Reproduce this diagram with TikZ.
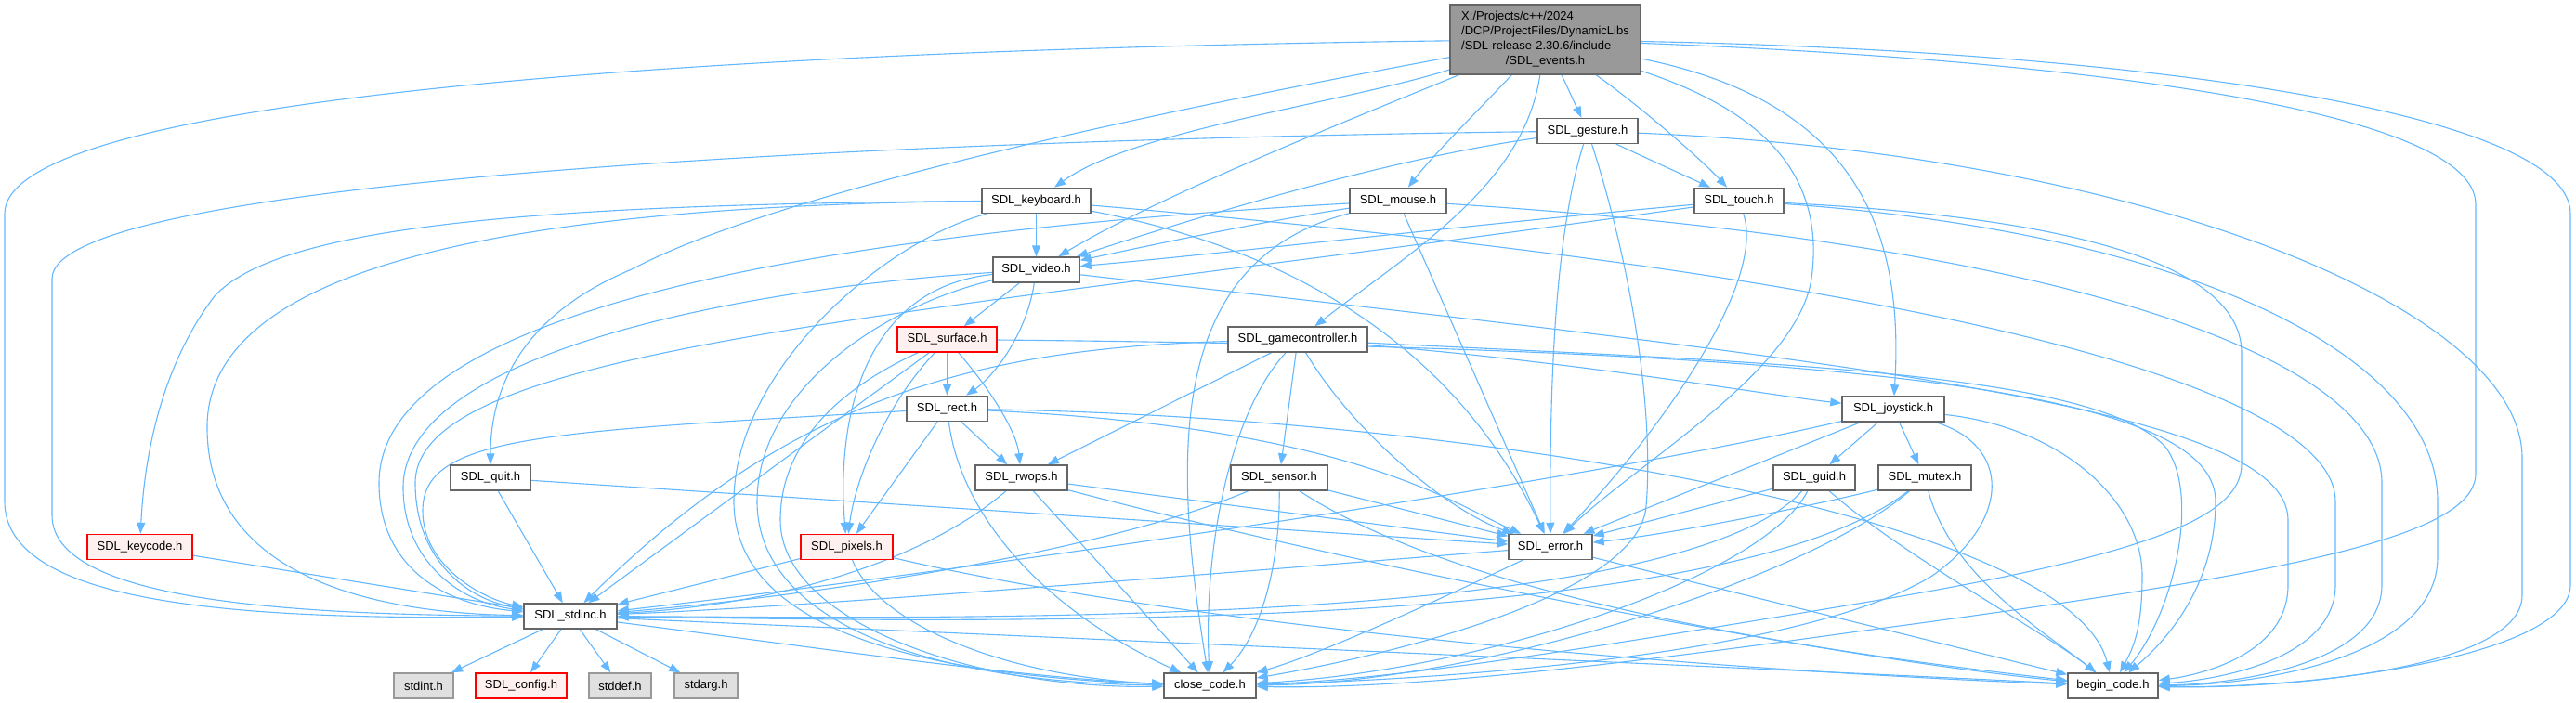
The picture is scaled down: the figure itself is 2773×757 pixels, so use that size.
\documentclass[tikz,border=0pt]{standalone}
\usepackage{fontspec}
\setmainfont{Liberation Sans}
\usetikzlibrary{arrows.meta}
\definecolor{edgeblue}{HTML}{63B8FF}
\definecolor{boxgray}{HTML}{666666}
\definecolor{redfill}{HTML}{FFF0F0}
\definecolor{extfill}{HTML}{E0E0E0}
\definecolor{extdraw}{HTML}{999999}
\definecolor{mainfill}{HTML}{999999}
\pgfdeclarelayer{bglayer}
\pgfdeclarelayer{edgelayer}
\pgfsetlayers{bglayer,edgelayer,main}
\begin{document}
\begin{tikzpicture}[x=1pt,y=-1pt,
  nbox/.style={draw=boxgray, fill=white, line width=1.5pt, minimum height=27pt, inner sep=0pt, font=\fontsize{13}{16}\selectfont},
  redbox/.style={nbox, draw=red, fill=redfill},
  extbox/.style={nbox, draw=extdraw, fill=extfill},
  dep/.style={draw=edgeblue, line width=1.1pt, -{Triangle[length=12pt,width=9pt]}},
]
\useasboundingbox (0,0) rectangle (2773,757);
\begin{pgfonlayer}{bglayer}
\fill[white] (0,0) rectangle (2773,757);
\end{pgfonlayer}

% nodes
\node[nbox, fill=mainfill, minimum width=205pt, minimum height=75pt] (events) at (1663.5,42.5)
  {\begin{tabular}{@{}l@{}}X:/Projects/c++/2024\\/DCP/ProjectFiles/DynamicLibs\\/SDL-release-2.30.6/include\\\multicolumn{1}{@{}c@{}}{/SDL\_events.h}\end{tabular}};
\node[nbox, minimum width=108pt] (gesture) at (1709,141) {SDL\_gesture.h};
\node[nbox, minimum width=96pt] (touch) at (1872,216) {SDL\_touch.h};
\node[nbox, minimum width=117pt] (keyboard) at (1115.5,216) {SDL\_keyboard.h};
\node[nbox, minimum width=104pt] (mouse) at (1505,216) {SDL\_mouse.h};
\node[nbox, minimum width=93pt] (video) at (1115.5,290.5) {SDL\_video.h};
\node[redbox, minimum width=107pt] (surface) at (1019.5,365.5) {SDL\_surface.h};
\node[nbox, minimum width=150pt] (gamecontroller) at (1397,365.5) {SDL\_gamecontroller.h};
\node[nbox, minimum width=87pt] (rect) at (1019.5,440) {SDL\_rect.h};
\node[nbox, minimum width=110pt] (joystick) at (2038,440.5) {SDL\_joystick.h};
\node[nbox, minimum width=86pt] (quit) at (528,514.5) {SDL\_quit.h};
\node[nbox, minimum width=99pt] (rwops) at (1099.5,514.5) {SDL\_rwops.h};
\node[nbox, minimum width=104pt] (sensor) at (1377,514.5) {SDL\_sensor.h};
\node[nbox, minimum width=88pt] (guid) at (1953,514.5) {SDL\_guid.h};
\node[nbox, minimum width=100pt] (mutex) at (2072,514.5) {SDL\_mutex.h};
\node[redbox, minimum width=113pt] (keycode) at (150.5,589) {SDL\_keycode.h};
\node[redbox, minimum width=99pt] (pixels) at (911.5,589) {SDL\_pixels.h};
\node[nbox, minimum width=90pt] (error) at (1669,589) {SDL\_error.h};
\node[nbox, minimum width=100pt] (stdinc) at (614,663.5) {SDL\_stdinc.h};
\node[extbox, minimum width=64pt] (stdint) at (456,738.5) {stdint.h};
\node[redbox, minimum width=98pt] (config) at (561,738.5) {SDL\_config.h};
\node[extbox, minimum width=67pt] (stddef) at (667.5,738.5) {stddef.h};
\node[extbox, minimum width=68pt] (stdarg) at (760,738.5) {stdarg.h};
\node[nbox, minimum width=99pt] (close) at (1302.5,738.5) {close\_code.h};
\node[nbox, minimum width=97pt] (begin) at (2274.5,738.5) {begin\_code.h};

\begin{pgfonlayer}{edgelayer}
% SDL_events
\draw[dep] (events) .. controls (700,55) and (5,110) .. (5,230) -- (5,540) .. controls (5,650) and (250,668) .. (stdinc);
\draw[dep] (events) .. controls (2300,55) and (2767,120) .. (2767,230) -- (2767,630) .. controls (2767,705) and (2500,742) .. (begin);
\draw[dep] (events) .. controls (2250,65) and (2665,120) .. (2665,220) -- (2665,510) .. controls (2665,580) and (2450,620) .. (2000,680) .. controls (1700,722) and (1500,742) .. (close);
\draw[dep] (events) .. controls (1900,120) and (1965,190) .. (1950,300) .. controls (1935,400) and (1760,500) .. (error);
\draw[dep] (events) .. controls (2000,110) and (2050,250) .. (joystick);
\draw[dep] (events) .. controls (1640,200) and (1520,270) .. (gamecontroller);
\draw[dep] (events) .. controls (1590,120) and (1540,170) .. (mouse);
\draw[dep] (events) .. controls (1450,110) and (1220,140) .. (keyboard);
\draw[dep] (events) .. controls (1450,130) and (1250,210) .. (video);
\draw[dep] (events) .. controls (1300,110) and (850,200) .. (680,290) .. controls (560,340) and (528,420) .. (quit);
\draw[dep] (events) -- (gesture);
\draw[dep] (events) .. controls (1760,110) and (1830,170) .. (touch);
% SDL_gesture
\draw[dep] (gesture) .. controls (1000,150) and (56,190) .. (56,300) -- (56,555) .. controls (56,645) and (300,662) .. (stdinc);
\draw[dep] (gesture) .. controls (1500,170) and (1300,230) .. (video);
\draw[dep] (gesture) -- (touch);
\draw[dep] (gesture) .. controls (1675,250) and (1668,400) .. (error);
\draw[dep] (gesture) .. controls (1760,300) and (1780,450) .. (1772,545) .. controls (1765,640) and (1500,705) .. (close);
\draw[dep] (gesture) .. controls (2300,165) and (2715,330) .. (2715,493) -- (2715,641) .. controls (2715,722) and (2450,742) .. (begin);
% SDL_touch
\draw[dep] (touch) .. controls (1000,340) and (447,370) .. (447,520) .. controls (447,600) and (500,645) .. (stdinc);
\draw[dep] (touch) .. controls (1600,240) and (1300,275) .. (video);
\draw[dep] (touch) .. controls (1900,300) and (1800,450) .. (error);
\draw[dep] (touch) .. controls (2250,235) and (2413,290) .. (2413,380) -- (2413,500) .. controls (2413,560) and (2300,600) .. (2000,650) .. controls (1700,700) and (1500,732) .. (close);
\draw[dep] (touch) .. controls (2350,250) and (2624,380) .. (2624,540) -- (2624,600) .. controls (2624,712) and (2420,738) .. (begin);
% SDL_keyboard
\draw[dep] (keyboard) .. controls (600,220) and (300,240) .. (230,320) .. controls (170,400) and (155,500) .. (keycode);
\draw[dep] (keyboard) .. controls (500,222) and (223,300) .. (223,460) .. controls (223,620) and (400,660) .. (stdinc);
\draw[dep] (keyboard) -- (video);
\draw[dep] (keyboard) .. controls (1400,270) and (1570,380) .. (error);
\draw[dep] (keyboard) .. controls (950,260) and (790,400) .. (790,540) .. controls (790,680) and (1000,728) .. (close);
\draw[dep] (keyboard) .. controls (2100,300) and (2514,420) .. (2514,540) -- (2514,630) .. controls (2514,712) and (2380,733) .. (begin);
% SDL_mouse
\draw[dep] (mouse) .. controls (900,250) and (408,330) .. (408,520) .. controls (408,605) and (470,650) .. (stdinc);
\draw[dep] (mouse) .. controls (1350,240) and (1220,268) .. (video);
\draw[dep] (mouse) -- (error);
\draw[dep] (mouse) .. controls (1260,280) and (1260,480) .. (close);
\draw[dep] (mouse) .. controls (2200,260) and (2564,380) .. (2564,520) -- (2564,630) .. controls (2564,717) and (2400,737) .. (begin);
% SDL_video
\draw[dep] (video) .. controls (800,310) and (434,380) .. (434,525) .. controls (434,600) and (490,648) .. (stdinc);
\draw[dep] (video) -- (surface);
\draw[dep] (video) .. controls (1105,360) and (1070,405) .. (rect);
\draw[dep] (video) .. controls (930,310) and (900,450) .. (pixels);
\draw[dep] (video) .. controls (950,330) and (815,420) .. (815,540) .. controls (815,670) and (1000,735) .. (close);
\draw[dep] (video) .. controls (2000,390) and (2463,440) .. (2463,560) -- (2463,630) .. controls (2463,708) and (2360,728) .. (begin);
% SDL_surface
\draw[dep] (surface) -- (stdinc);
\draw[dep] (surface) .. controls (950,440) and (920,520) .. (pixels);
\draw[dep] (surface) -- (rect);
\draw[dep] (surface) .. controls (1075,430) and (1095,470) .. (rwops);
\draw[dep] (surface) .. controls (900,420) and (840,480) .. (840,560) .. controls (840,670) and (1050,742) .. (close);
\draw[dep] (surface) .. controls (2000,375) and (2385,420) .. (2385,540) .. controls (2385,640) and (2320,700) .. (begin);
% SDL_gamecontroller
\draw[dep] (gamecontroller) .. controls (1050,375) and (850,430) .. (stdinc);
\draw[dep] (gamecontroller) -- (rwops);
\draw[dep] (gamecontroller) -- (sensor);
\draw[dep] (gamecontroller) .. controls (1460,470) and (1560,550) .. (error);
\draw[dep] (gamecontroller) .. controls (1700,390) and (1900,425) .. (joystick);
\draw[dep] (gamecontroller) .. controls (1320,450) and (1296,600) .. (close);
\draw[dep] (gamecontroller) .. controls (1900,390) and (2250,400) .. (2330,480) .. controls (2370,530) and (2340,660) .. (begin);
% SDL_rect
\draw[dep] (rect) .. controls (580,465) and (455,470) .. (455,550) .. controls (455,610) and (520,645) .. (stdinc);
\draw[dep] (rect) -- (pixels);
\draw[dep] (rect) -- (rwops);
\draw[dep] (rect) .. controls (1450,460) and (1560,540) .. (error);
\draw[dep] (rect) .. controls (1035,560) and (1130,660) .. (close);
\draw[dep] (rect) .. controls (1600,450) and (2230,560) .. (begin);
% SDL_joystick
\draw[dep] (joystick) .. controls (1700,520) and (1000,620) .. (stdinc);
\draw[dep] (joystick) -- (guid);
\draw[dep] (joystick) -- (mutex);
\draw[dep] (joystick) -- (error);
\draw[dep] (joystick) .. controls (2165,480) and (2165,560) .. (2080,620) .. controls (1950,700) and (1600,730) .. (close);
\draw[dep] (joystick) .. controls (2220,460) and (2306,540) .. (2306,620) .. controls (2306,680) and (2295,700) .. (begin);
% SDL_quit
\draw[dep] (quit) -- (stdinc);
\draw[dep] (quit) -- (error);
% SDL_rwops
\draw[dep] (rwops) .. controls (1000,600) and (850,650) .. (stdinc);
\draw[dep] (rwops) -- (error);
\draw[dep] (rwops) -- (close);
\draw[dep] (rwops) .. controls (1500,620) and (2000,712) .. (begin);
% SDL_sensor
\draw[dep] (sensor) .. controls (1200,590) and (900,640) .. (stdinc);
\draw[dep] (sensor) -- (error);
\draw[dep] (sensor) .. controls (1378,600) and (1360,680) .. (close);
\draw[dep] (sensor) .. controls (1600,660) and (2050,712) .. (begin);
% SDL_guid
\draw[dep] (guid) .. controls (1800,680) and (1000,665) .. (stdinc);
\draw[dep] (guid) -- (error);
\draw[dep] (guid) .. controls (1900,620) and (1600,722) .. (close);
\draw[dep] (guid) .. controls (2050,600) and (2200,680) .. (begin);
% SDL_mutex
\draw[dep] (mutex) .. controls (1850,690) and (1000,668) .. (stdinc);
\draw[dep] (mutex) .. controls (1950,545) and (1800,575) .. (error);
\draw[dep] (mutex) .. controls (1950,620) and (1600,735) .. (close);
\draw[dep] (mutex) .. controls (2100,620) and (2200,680) .. (begin);
% SDL_keycode, SDL_pixels, SDL_error
\draw[dep] (keycode) -- (stdinc);
\draw[dep] (pixels) -- (stdinc);
\draw[dep] (pixels) .. controls (950,680) and (1100,730) .. (close);
\draw[dep] (pixels) .. controls (1300,680) and (1900,725) .. (begin);
\draw[dep] (error) .. controls (1400,610) and (900,652) .. (stdinc);
\draw[dep] (error) .. controls (1540,650) and (1420,705) .. (close);
\draw[dep] (error) -- (begin);
% SDL_stdinc
\draw[dep] (stdinc) -- (stdint);
\draw[dep] (stdinc) -- (config);
\draw[dep] (stdinc) -- (stddef);
\draw[dep] (stdinc) -- (stdarg);
\draw[dep] (stdinc) .. controls (900,700) and (1100,730) .. (close);
\draw[dep] (stdinc) .. controls (1100,685) and (1800,715) .. (begin);
\end{pgfonlayer}
\end{tikzpicture}
\end{document}
